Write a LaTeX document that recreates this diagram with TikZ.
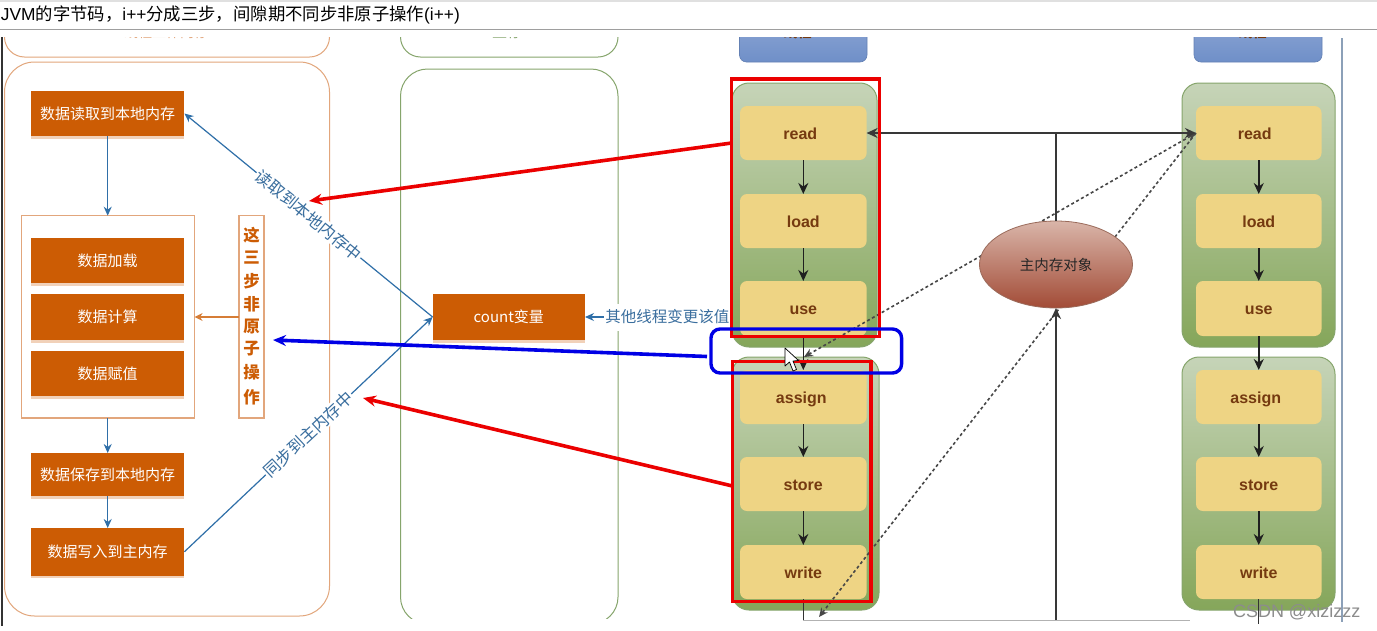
\documentclass[tikz,border=0pt]{standalone}
\usepackage{fontspec}
\setmainfont{Liberation Sans}
\newfontfamily\cjk{Noto Sans CJK SC}
\usetikzlibrary{arrows.meta,calc,shapes.geometric,shadows}
\definecolor{orgbox}{HTML}{CC5C04}
\definecolor{orgline}{HTML}{E2A67C}
\definecolor{grnline}{HTML}{86A56C}
\definecolor{bluelink}{HTML}{2F6FA8}
\definecolor{labelblue}{HTML}{3A6E9E}
\definecolor{yel}{HTML}{EED484}
\definecolor{brn}{HTML}{753A10}
\definecolor{gtop}{HTML}{C6D4B8}
\definecolor{gbot}{HTML}{85A65A}
\definecolor{hb}{HTML}{6F8FC8}
\definecolor{ht}{HTML}{92AAD6}
\definecolor{memtop}{HTML}{D9B5A9}
\definecolor{membot}{HTML}{A24B36}
\definecolor{memline}{HTML}{9A6A5A}
\definecolor{frameR}{HTML}{8CA0B8}
\newcommand\zh[1]{{\cjk #1}}
\newcommand\fsz[1]{\fontsize{#1}{#1}\selectfont}
\newcommand\bx[7]{%
  \pgfmathsetmacro\bw{#4-#2}\pgfmathsetmacro\bh{#5-#3}%
  \node[#6,minimum width=\bw pt,minimum height=\bh pt] (#1) at ({(#2+#4)/2},{(#3+#5)/2}) {#7};}
\tikzset{
  every node/.style={inner sep=0pt,outer sep=0pt},
  orgfill/.style={rectangle,fill=orgbox,text=white,font=\cjk\fsz{15},copy shadow={shadow xshift=0pt,shadow yshift=-2.5pt,fill=orgbox!28,draw=none}},
  thinorg/.style={rectangle,draw=orgline,line width=1.1pt,fill=white},
  ggrp/.style={rectangle,rounded corners=17pt,draw=grnline,line width=1pt,top color=gtop,bottom color=gbot},
  yelbox/.style={rectangle,rounded corners=7pt,fill=yel,text=brn,text height=15pt,text depth=3pt,font=\bfseries\fsz{16}},
  hdr/.style={rectangle,rounded corners=7pt,bottom color=hb,top color=ht,draw=hb!90!black,line width=.6pt},
  blink/.style={draw=bluelink,line width=1.2pt,-{Stealth[length=9pt,width=8pt]}},
  blk/.style={draw=black!88,line width=1.5pt,-{Stealth[length=11pt,width=10pt]}},
  hvy/.style={draw=black!78,line width=2.2pt},
  dots/.style={draw=black!72,line width=1.6pt,dash pattern=on 3pt off 2.6pt},
  fat/.style={line width=3.6pt,-{Stealth[length=13pt,width=11pt]}},
  lbl/.style={fill=white,text=labelblue,font=\cjk\fsz{15.5}},
  rotlbl/.style={fill=white,text=labelblue,font=\cjk\fsz{16.5}},
}
\begin{document}
\begin{tikzpicture}[x=1pt,y=-1pt]
\useasboundingbox (0,0) rectangle (1377,630);
\fill[white] (0,0) rectangle (1377,630);
% title bar
\draw[black!12,line width=1.4pt] (0,0.8) -- (1377,0.8);
\node[anchor=west,font=\fsz{17.35},text=black] (title) at (1,15) {JVM\zh{的字节码，}i++\zh{分成三步，间隙期不同步非原子操作}(i++)};
\draw[black!38,line width=1.6pt] (0,29.5) -- (1377,29.5);
% frame lines
\draw[black!80,line width=1.2pt] (2,37) -- (2,626);
\draw[frameR,line width=1.3pt] (1342,38) -- (1342,622);
% clipped headers
\begin{scope}
\clip (0,37.5) rectangle (1377,630);
\bx{headA}{4.5}{-10}{329.5}{57}{rectangle,rounded corners=20pt,draw=orgline,line width=1pt}{}
\bx{headB}{400.5}{-10}{618}{57}{rectangle,rounded corners=20pt,draw=grnline,line width=1pt}{}
\bx{headC}{739.5}{10}{867}{62}{hdr}{}
\bx{headD}{1194}{10}{1322}{62}{hdr}{}
\node[text=orgline,font=\cjk\fsz{14}] (headAt) at (166,32) {线程工作内存};
\node[text=grnline,font=\cjk\fsz{15}] (headBt) at (507,32) {主存};
\node[text=brn,font=\cjk\bfseries\fsz{14}] (headCt) at (802,32) {线程1};
\node[text=brn,font=\cjk\bfseries\fsz{14}] (headDt) at (1257,32) {线程2};
\end{scope}
% main panels
\bx{panelA}{4.5}{62}{329.5}{616}{rectangle,rounded corners=30pt,draw=orgline,line width=1pt}{}
\begin{scope}
\clip (380,60) rectangle (640,618.5);
\bx{panelB}{400.5}{69}{618}{624}{rectangle,rounded corners=27pt,draw=grnline,line width=1pt}{}
\end{scope}
% thread groups
\bx{gA}{732}{83}{877}{347}{ggrp}{}
\bx{gB}{732}{357}{879}{610}{ggrp}{}
\bx{gC}{1182}{83}{1335}{347}{ggrp}{}
\bx{gD}{1182}{357}{1335}{610}{ggrp}{}
% left column
\bx{grpBox}{21.4}{215.7}{194.6}{418}{thinorg}{}
\bx{stepsBox}{239}{215.7}{264}{418}{thinorg}{}
\foreach \n/\c/\yy in {s1/这/235,s2/三/258,s3/步/281,s4/非/304,s5/原/327,s6/子/349,s7/操/372,s8/作/397}{
  \node[text=orgbox,font=\cjk\bfseries\fsz{16.5}] (\n) at (251.5,\yy) {\c};
}
\bx{d1}{31}{91}{184.4}{136}{orgfill}{数据读取到本地内存}
\bx{d2}{31}{238}{184.4}{283}{orgfill}{数据加载}
\bx{d3}{31}{294}{184.4}{340}{orgfill}{数据计算}
\bx{d4}{31}{351}{184.4}{396}{orgfill}{数据赋值}
\bx{d5}{31}{453}{184.4}{496}{orgfill}{数据保存到本地内存}
\bx{d6}{31}{528}{184.4}{575.5}{orgfill}{数据写入到主内存}
\bx{count}{432.6}{294}{585}{340}{orgfill}{count变量}
% blue links
\draw[blink] (d1) -- (grpBox.north -| d1);
\draw[blink] (grpBox.south -| d5) -- (d5);
\draw[blink] (d5) -- (d6);
\draw[blink] (count.west) -- (d1.east) node[midway,rotlbl,rotate=-39.4,minimum height=17pt,inner xsep=1pt] (lblA) {读取到本地内存中};
\draw[blink] (d6.east) -- (count.west) node[midway,rotlbl,rotate=43,minimum height=17pt,inner xsep=1pt] (lblB) {同步到主内存中};
\coordinate (oth) at (732,317);
\draw[blink] (oth) -- (count.east) node[pos=.44,lbl,minimum height=27pt,inner xsep=1pt] (lblC) {其他线程变更该值};
\draw[draw=orgbox!80,line width=1.4pt,-{Stealth[length=8pt,width=8pt]}] (stepsBox.west |- d3) -- (grpBox.east |- d3);
% yellow operations
\bx{aread}{740}{106}{866.6}{160}{yelbox}{read\kern6pt}
\bx{aload}{740}{194}{866.6}{248}{yelbox}{load}
\bx{ause}{740}{281}{866.6}{336}{yelbox}{use}
\bx{aassign}{740}{370}{866.6}{424}{yelbox}{assign\kern4pt}
\bx{astore}{740}{457}{866.6}{511}{yelbox}{store}
\bx{awrite}{740}{545}{866.6}{599}{yelbox}{write}
\bx{bread}{1196}{106}{1321.5}{160}{yelbox}{read\kern8pt}
\bx{bload}{1196}{194}{1321.5}{248}{yelbox}{load}
\bx{buse}{1196}{281}{1321.5}{336}{yelbox}{use}
\bx{bassign}{1196}{370}{1321.5}{424}{yelbox}{assign\kern6pt}
\bx{bstore}{1196}{457}{1321.5}{511}{yelbox}{store}
\bx{bwrite}{1196}{545}{1321.5}{599}{yelbox}{write}
\draw[blk] (aread) -- (aload);
\draw[blk] (aload) -- (ause);
\draw[blk] (ause) -- (aassign);
\draw[blk] (aassign) -- (astore);
\draw[blk] (astore) -- (awrite);
\draw[blk] (bread) -- (bload);
\draw[blk] (bload) -- (buse);
\draw[blk] (buse) -- (bassign);
\draw[blk] (bassign) -- (bstore);
\draw[blk] (bstore) -- (bwrite);
% bottom bus
\coordinate (busL) at (awrite.south |- 0,620);
\coordinate (busM) at (1056,620);
\coordinate (busR) at (1190,620);
\coordinate (busE) at (bwrite.south |- 0,624);
\draw[black!30,line width=1pt] (busL) -- (busR);
\draw[black!80,line width=1.4pt] (awrite.south) -- (busL);
\draw[black!80,line width=1.4pt] (bwrite.south) -- (busE);
% memory object and dotted links
\coordinate (dotA) at (804,357);
\coordinate (dotB) at (819,617);
\coordinate (topT) at (1056,133);
\draw[dots,{Stealth[length=9pt,width=8pt]}-{Stealth[length=9pt,width=8pt]}] (dotA) -- (bread.west);
\draw[dots,-{Stealth[length=9pt,width=8pt]}] (bread.west) -- (dotB);
\node[ellipse,minimum width=153pt,minimum height=87pt,draw=memline,line width=.8pt,top color=memtop,bottom color=membot,text=black!85,font=\cjk\fsz{14.5}] (mem) at (1056,264.5) {主内存对象};
\draw[hvy,-{Stealth[length=11pt,width=10pt]}] (busM) -- (mem.south);
\draw[hvy] (mem.north) -- (topT);
\draw[hvy,{Stealth[length=11pt,width=10pt]}-{Stealth[length=11pt,width=10pt]}] (aread.east) -- (bread.west);
% annotations
\bx{redA}{731.6}{79}{879.7}{336.7}{rectangle,draw=red!92!black,line width=3.4pt}{}
\bx{redB}{732.5}{361.7}{871}{601.7}{rectangle,draw=red!92!black,line width=3.4pt}{}
\bx{blueR}{711}{329}{901.6}{373}{rectangle,rounded corners=9pt,draw=blue!90!black,line width=3.4pt}{}
\coordinate (rAs) at (731.6,143);
\coordinate (rAe) at (309,201);
\coordinate (rBs) at (732.5,486);
\coordinate (rBe) at (363,398);
\coordinate (bRs) at (707,356.5);
\coordinate (bRe) at (273,340);
\draw[fat,red!92!black] (rAs) -- (rAe);
\draw[fat,red!92!black] (rBs) -- (rBe);
\draw[fat,blue!90!black] (bRs) -- (bRe);
% mouse pointer
\draw[black,fill=white,line width=.7pt,line join=round] (785,348) -- (785,366) -- (789.5,362) -- (793,371) -- (796.5,369.5) -- (793,361) -- (798.5,360.5) -- cycle;
% watermark
\node[anchor=west,text=black!45,font=\fsz{18}] (mark) at (1233,612) {CSDN @xizizzz};
\end{tikzpicture}
\end{document}
